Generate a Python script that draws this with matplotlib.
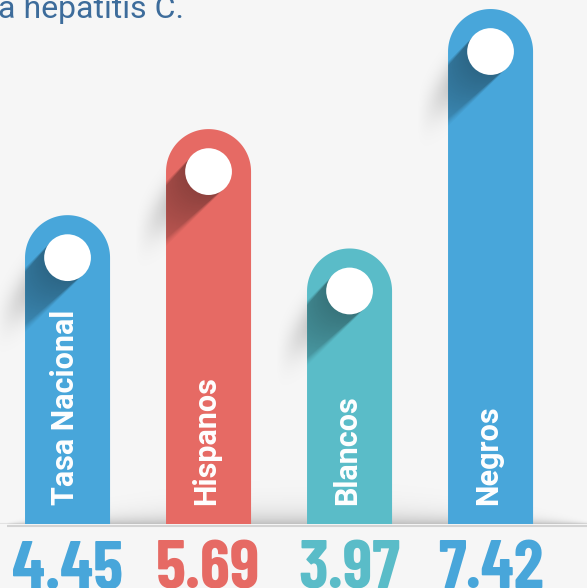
import numpy as np
import matplotlib
matplotlib.use("Agg")
import matplotlib.pyplot as plt
from matplotlib import font_manager
from matplotlib.patches import Ellipse, Polygon
from matplotlib.transforms import offset_copy

categories = ["Tasa Nacional", "Hispanos", "Blancos", "Negros"]
values = [4.45, 5.69, 3.97, 7.42]
value_labels = ["4.45", "5.69", "3.97", "7.42"]
colors = ["#48A6DA", "#E66A64", "#5ABCC8", "#48A6DA"]
heading = "a hepatitis C."

W, H = 587, 588
BG = "#F6F6F6"
bar_w = 0.603

# narrow bold face for the big numbers
names = {f.name for f in font_manager.fontManager.ttflist}
num_font = next((n for n in ["Barlow Condensed", "Asap Condensed",
                             "Roboto Condensed"] if n in names), "Roboto")

fig = plt.figure(figsize=(W / 100, H / 100), dpi=100, facecolor=BG)
ax = fig.add_axes([0, 0, 1, 1])
ax.set_xlim(-0.479, 3.684)
ax.set_ylim(-0.922, 7.55)
ax.axis("off")
extent = (*ax.get_xlim(), *ax.get_ylim())

xs = np.arange(len(values))
# size of one data unit in pixels
p0 = ax.transData.transform((0, 0))
p1 = ax.transData.transform((1, 1))
sx, sy = p1 - p0
r_px = bar_w * sx / 2
ry = r_px / sy
circ_px = r_px * 0.55


def to_img(x, y):
    px, py = ax.transData.transform((x, y))
    return px, H - py


X, Y = np.meshgrid(np.arange(W) + 0.5, np.arange(H) + 0.5)

# soft shadow sitting on the baseline
base_px = to_img(0, 0)[1]
hh = np.clip(11 * (1 - ((X - 300) / 300) ** 2), 0.5, None)
above = base_px - Y
back_alpha = np.where(above > 0, 0.22 * np.exp(-np.clip(above, 0, None) / hh), 0)

for x, v, c in zip(xs, values, colors):
    th = np.linspace(0, np.pi, 80)
    verts = [(x - bar_w / 2, 0), (x + bar_w / 2, 0)]
    verts += list(zip(x + bar_w / 2 * np.cos(th), v - ry + ry * np.sin(th)))
    bar = Polygon(verts, closed=True, fc=c, ec="none", zorder=2)
    ax.add_patch(bar)

    ccx, ccy = to_img(x, v - ry)
    R = circ_px

    # long shadow of the circle on the bar
    dx = ccx - X
    dy = ccy - Y
    proj = (dx - dy) / np.sqrt(2)
    perp = (dx + dy) / np.sqrt(2)
    inband = (proj > 0) & (np.abs(perp) < R)
    t = proj - np.sqrt(np.clip(R ** 2 - perp ** 2, 0, None))
    a = 0.38 * np.clip(1 - t / 120, 0, 1) * np.clip((R - np.abs(perp)) / (1.5 + 0.08 * t), 0, 1)
    a = np.where(inband, a, 0)
    img = np.zeros((H, W, 4))
    img[..., 3] = a
    im = ax.imshow(img, extent=extent, origin="upper", aspect="auto",
                   interpolation="nearest", zorder=3)
    im.set_clip_path(bar)

    # blurred shadow on the background, just left of the cap
    xl = ccx - r_px
    to = xl - X
    y_hit = Y - to
    yc = ccy + 0.85 * r_px
    ao = 0.17 * np.exp(-0.5 * ((y_hit - yc) / 17) ** 2) * np.clip(1 - to / 32, 0, 1) ** 1.3
    ao = np.where(to > 0, ao, 0)
    back_alpha = 1 - (1 - back_alpha) * (1 - ao)

    ax.add_patch(Ellipse((x, v - ry), 2 * circ_px / sx, 2 * circ_px / sy,
                         fc="white", ec="none", zorder=4))

back = np.zeros((H, W, 4))
back[..., 3] = back_alpha
ax.imshow(back, extent=extent, origin="upper", aspect="auto",
          interpolation="bilinear", zorder=1)

ax.plot([extent[0] + 7 / sx, extent[1]], [-1.5 / sy, -1.5 / sy],
        color="#D3D3D3", lw=1.5, zorder=2.5, solid_capstyle="butt")

lab_tr = offset_copy(ax.transData, fig, x=-2.5, y=19, units="dots")
num_tr = offset_copy(ax.transData, fig, y=-64, units="dots")
for x, cat, lab, c in zip(xs, categories, value_labels, colors):
    ax.text(x, 0, cat, rotation=90, ha="center", va="bottom", color="white",
            fontsize=22, fontweight="bold", family="Roboto",
            transform=lab_tr, zorder=5)
    ax.text(x, 0, lab, ha="center", va="baseline", color=c, fontsize=49,
            fontweight="bold", family=num_font,
            transform=num_tr, zorder=5)

fig.text(-2 / W, 1 - 18 / H, heading, fontsize=23, color="#3D6C9B",
         family="Roboto", va="baseline", ha="left")

ax.set_xlim(extent[0], extent[1])
ax.set_ylim(extent[2], extent[3])
fig.savefig("out.png", dpi=100, facecolor=BG)
